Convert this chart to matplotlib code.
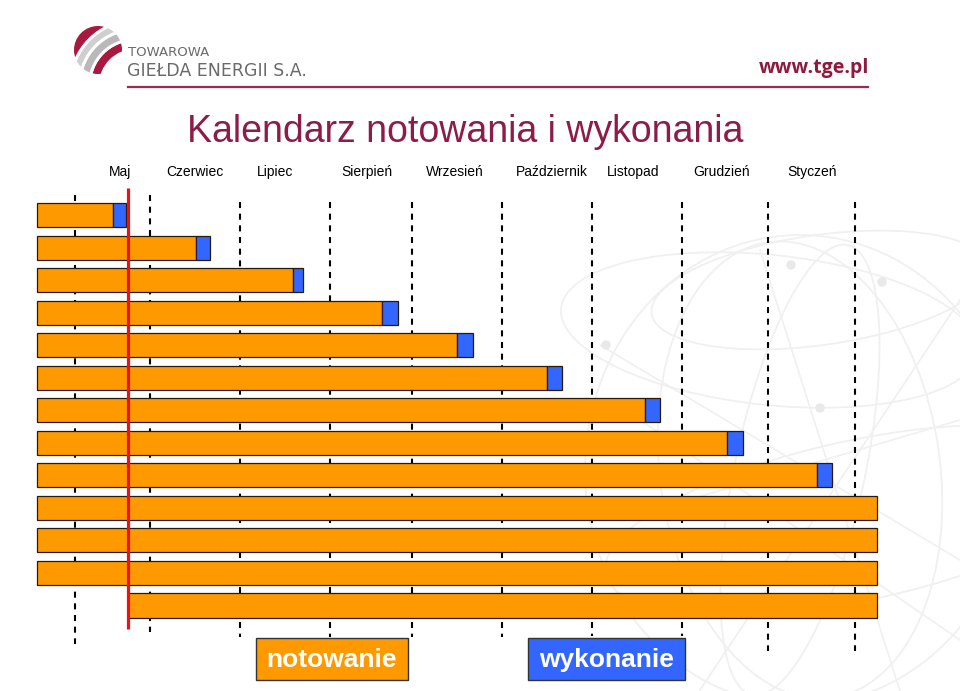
import matplotlib
matplotlib.use('Agg')
import matplotlib.pyplot as plt
import numpy as np
from matplotlib.patches import Rectangle, Circle, Ellipse, Wedge

# ---------------- data (x in days, 0 = start of the chart) ----------------
months = ['Maj', 'Czerwiec', 'Lipiec', 'Sierpień', 'Wrzesień',
          'Październik', 'Listopad', 'Grudzień', 'Styczeń']
month_label_x = [27.7, 52.7, 79.3, 110.0, 139.3, 171.7, 198.7, 228.3, 258.3]
month_boundaries = [12.7, 37.7, 67.7, 97.7, 125.1, 155.1, 185.0, 215.0, 243.7, 272.7]

notowanie_start = [0, 0, 0, 0, 0, 0, 0, 0, 0, 0, 0, 0, 30.2]
notowanie_end = [25.3, 53.0, 85.3, 115.1, 140.1, 170.1, 202.7, 230.1, 260.1,
                 280.1, 280.1, 280.1, 280.1]
wykonanie_len = [4.4, 4.7, 3.5, 5.1, 5.1, 5.0, 5.0, 5.1, 5.0, 0, 0, 0, 0]
today_x = 30.2

title = 'Kalendarz notowania i wykonania'
legend_labels = ['notowanie', 'wykonanie']

# ---------------- styles ----------------
ORANGE = '#FF9900'
BLUE = '#3366FF'
EDGE = '#2a1a0a'
MAROON = '#8c1c48'

fig = plt.figure(figsize=(9.6, 6.91), dpi=100)

# decoration layer in pixel coordinates
deco = fig.add_axes([0, 0, 1, 1])
deco.set_xlim(0, 960)
deco.set_ylim(691, 0)
deco.axis('off')

# faint globe background
gcol = '#f0f0f0'
for (cx, cy, w, h, ang) in [(820, 290, 340, 110, -8), (770, 330, 420, 150, 6),
                            (800, 470, 130, 460, 12), (800, 470, 280, 460, -8),
                            (800, 470, 430, 470, 0), (860, 520, 520, 160, -12)]:
    deco.add_patch(Ellipse((cx, cy), w, h, angle=ang, fill=False, ec=gcol, lw=1.3, zorder=0))
for (x0, y0, x1, y1) in [(600, 345, 960, 560), (620, 520, 960, 420), (700, 690, 960, 300),
                         (760, 250, 900, 691), (640, 420, 960, 640)]:
    deco.plot([x0, x1], [y0, y1], color=gcol, lw=1.2, zorder=0)
for (dx, dy) in [(606, 345), (791, 265), (882, 282), (820, 408)]:
    deco.add_patch(Circle((dx, dy), 4, color='#e9e9e9', zorder=0))

# logo
logo_c = (98, 50)
clip = Circle(logo_c, 24, transform=deco.transData)
bands = [(0, 36, 'white'), (36, 44, '#a8183f'), (44, 47, 'white'), (47, 54, '#b9b9b9'),
         (54, 57, 'white'), (57, 63, '#cfcfcf'), (63, 66, 'white'), (66, 80, '#a8183f')]
for r0, r1, col in bands:
    wd = Wedge((135, 85), r1, 0, 360, width=r1 - r0, fc=col, ec='none', zorder=2)
    deco.add_patch(wd)
    wd.set_clip_path(clip)
deco.text(128, 52.5, 'TOWAROWA', fontsize=9.5, color='#6a6a6a', va='center', ha='left',
          family='DejaVu Sans')
deco.text(127, 71, 'GIEŁDA ENERGII S.A.', fontsize=12.5, color='#6a6a6a', va='center',
          ha='left', family='DejaVu Sans')
deco.plot([128, 868], [86.5, 86.5], color='#9e2b4e', lw=1.6)
deco.text(869, 68, 'www.tge.pl', fontsize=14, fontweight='bold', color='#8e1a3e',
          ha='right', va='center', family='Open Sans')

# title
deco.text(465, 132, title, fontsize=27, color=MAROON, ha='center', va='center',
          family='Liberation Sans')

# legend boxes
for (x0, w, col, lab) in [(256, 152, ORANGE, legend_labels[0]), (528, 157, BLUE, legend_labels[1])]:
    deco.add_patch(Rectangle((x0, 638), w, 42, fc=col, ec='#333333', lw=1.0, zorder=3))
    deco.text(x0 + w / 2, 660, lab, fontsize=19, fontweight='bold', color='white',
              ha='center', va='center', family='Liberation Sans', zorder=4)

# ---------------- main chart ----------------
ax = fig.add_axes([0, 0, 1, 1])
ax.patch.set_alpha(0)
ax.axis('off')
row_px = 32.54
ax.set_xlim(-37 / 3, (960 - 37) / 3)
ax.set_ylim((691 - 215) / row_px, -215 / row_px)

rows = np.arange(len(notowanie_end))
start = np.array(notowanie_start, float)
end = np.array(notowanie_end, float)
wyk = np.array(wykonanie_len, float)

# dashed month boundaries (behind the bars)
dash_ext = [(-0.61, 13.18), (-0.61, 12.82), (-0.40, 12.97), (-0.40, 12.97), (-0.40, 12.97),
            (-0.40, 12.97), (-0.40, 12.94), (-0.40, 12.94), (-0.40, 13.40), (-0.40, 13.40)]
for xb, (y0, y1) in zip(month_boundaries, dash_ext):
    ax.plot([xb, xb], [y0, y1], color='black', lw=1.5, dashes=(2.9, 2.7), zorder=1)

ax.barh(rows, end - start, left=start, height=0.74, color=ORANGE, edgecolor=EDGE,
        linewidth=0.9, zorder=3)
m = wyk > 0
ax.barh(rows[m], wyk[m], left=end[m], height=0.74, color=BLUE, edgecolor=EDGE,
        linewidth=0.9, zorder=3)

ax.plot([today_x, today_x], [-0.83, 12.72], color='#ee1111', lw=2.3, zorder=5,
        solid_capstyle='butt')

for x, lab in zip(month_label_x, months):
    ax.text(x, -1.32, lab, fontsize=10, ha='center', va='center',
            family='Liberation Sans')

fig.savefig('out.png', dpi=100)
